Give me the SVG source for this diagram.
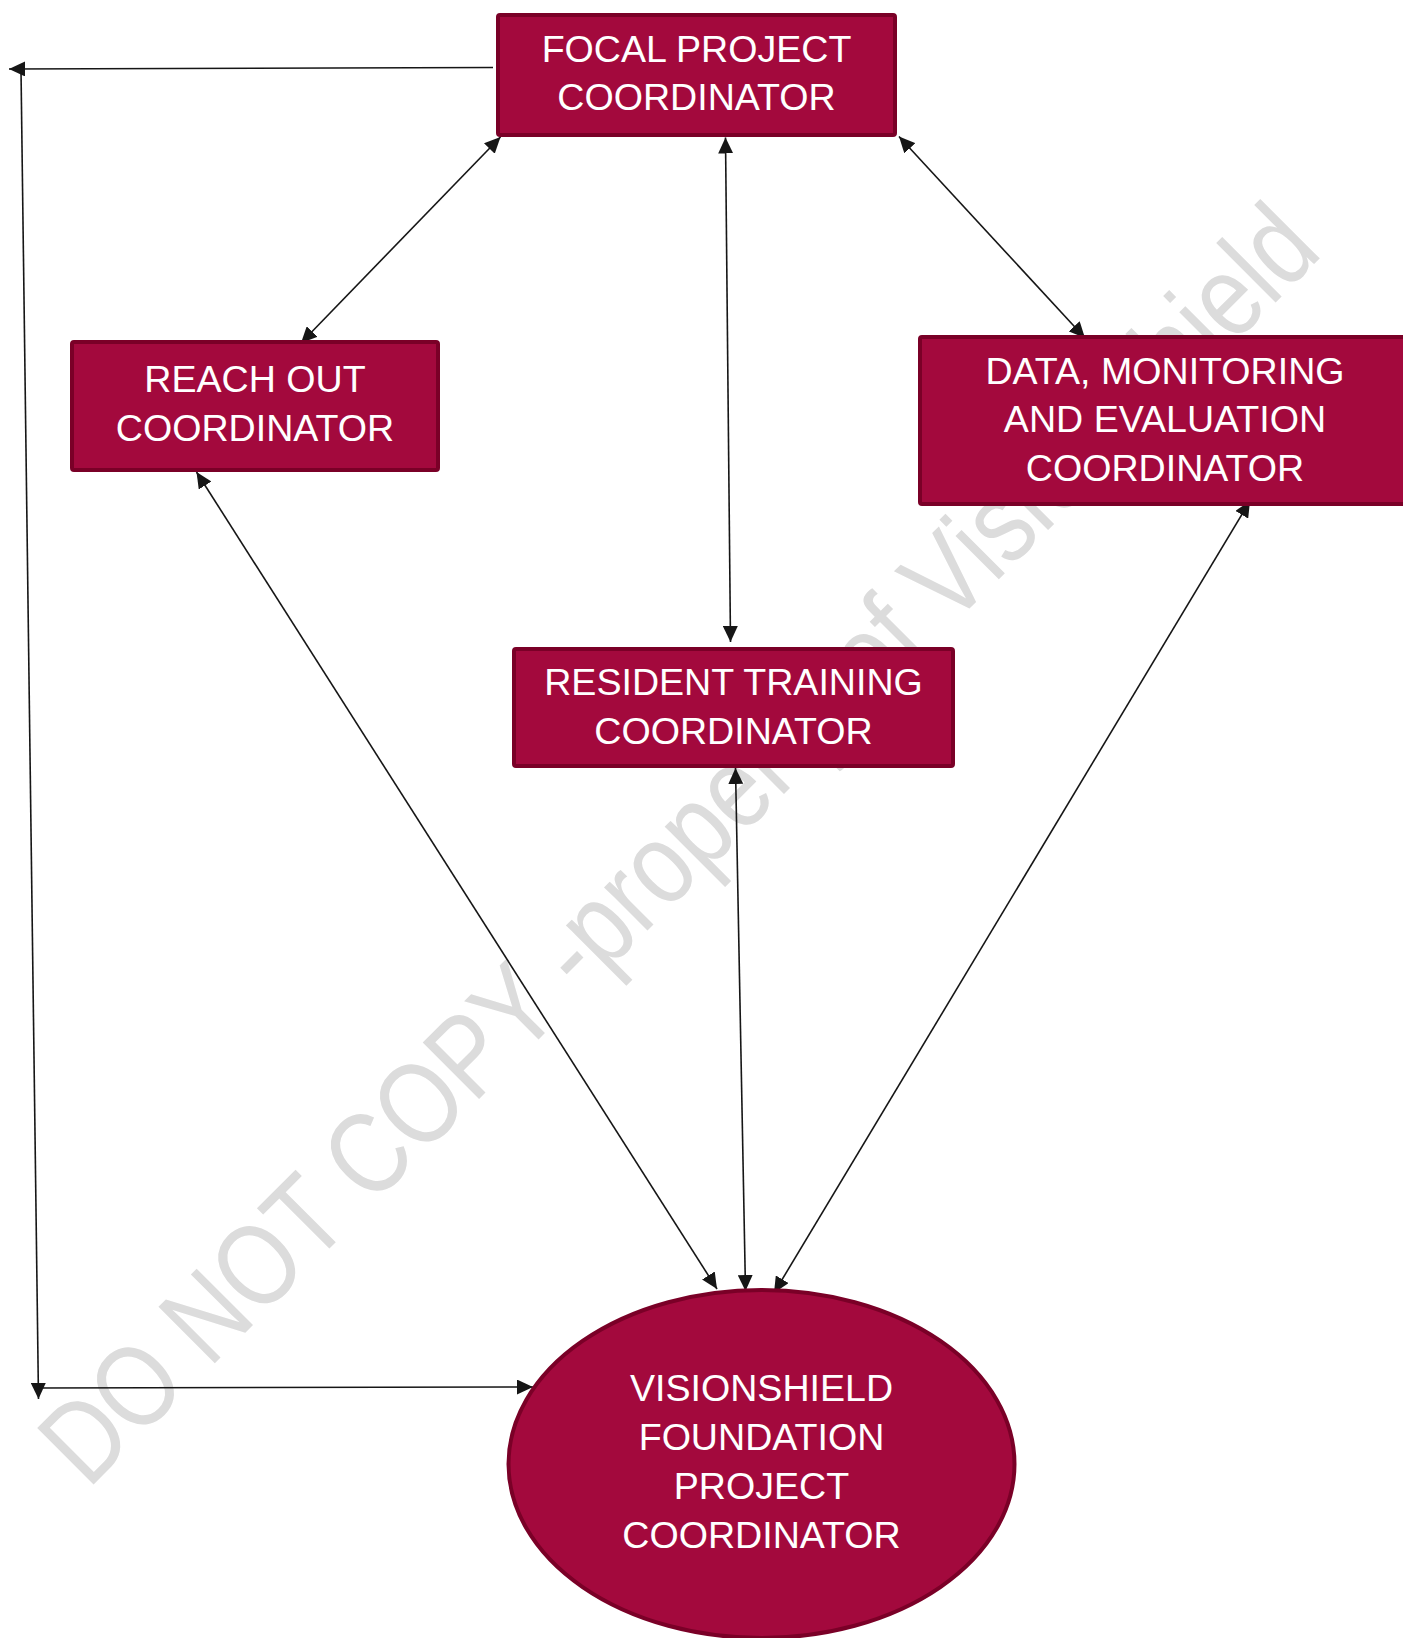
<svg xmlns="http://www.w3.org/2000/svg" width="1403" height="1638" viewBox="0 0 1403 1638">
<defs>
<style>
.node{fill:#a3093d;stroke:#7a0027;stroke-width:4}
.lbl{font-family:"Liberation Sans",Arial,sans-serif;font-size:37.6px;fill:#ffffff;text-anchor:middle}
.con{stroke:#161616;stroke-width:1.6;fill:none}
.wm{font-family:"Liberation Sans",Arial,sans-serif;font-size:96.5px;fill:#dcdcdc}
</style>
<marker id="ah" viewBox="0 0 16 15" markerUnits="userSpaceOnUse" markerWidth="16" markerHeight="15" refX="16" refY="7.5" orient="auto-start-reverse">
<path d="M0,0 L16,7.5 L0,15 z" fill="#161616"/>
</marker>
</defs>
<rect width="1403" height="1638" fill="#ffffff"/>
<g id="watermark">
<text class="wm" transform="translate(88,1490) rotate(-45) scale(1,1.2)" x="0" y="0">DO NOT COPY -property of VisionShield</text>
</g>
<g id="connectors">
<line class="con" x1="493" y1="67.5" x2="9" y2="69" marker-end="url(#ah)"/>
<line class="con" x1="21" y1="70" x2="38.5" y2="1399" marker-end="url(#ah)"/>
<line class="con" x1="38" y1="1388" x2="533" y2="1387" marker-end="url(#ah)"/>
<line class="con" x1="500.5" y1="137" x2="301" y2="343" marker-start="url(#ah)" marker-end="url(#ah)"/>
<line class="con" x1="725.5" y1="137.5" x2="730.5" y2="642" marker-start="url(#ah)" marker-end="url(#ah)"/>
<line class="con" x1="899" y1="136.5" x2="1085" y2="338" marker-start="url(#ah)" marker-end="url(#ah)"/>
<line class="con" x1="196.5" y1="472" x2="717" y2="1289" marker-start="url(#ah)" marker-end="url(#ah)"/>
<line class="con" x1="735.5" y1="768" x2="745.5" y2="1291" marker-start="url(#ah)" marker-end="url(#ah)"/>
<line class="con" x1="1250" y1="501" x2="774" y2="1293" marker-start="url(#ah)" marker-end="url(#ah)"/>
</g>
<g id="focal">
<rect class="node" x="498" y="15" width="397" height="120" rx="2"/>
<text class="lbl" x="696.5" y="62">FOCAL PROJECT</text>
<text class="lbl" x="696.5" y="110">COORDINATOR</text>
</g>
<g id="reach">
<rect class="node" x="72" y="342" width="366" height="128" rx="2"/>
<text class="lbl" x="255" y="392">REACH OUT</text>
<text class="lbl" x="255" y="440.5">COORDINATOR</text>
</g>
<g id="data">
<rect class="node" x="920" y="337" width="492" height="167" rx="2"/>
<text class="lbl" x="1165" y="383.5">DATA, MONITORING</text>
<text class="lbl" x="1165" y="432">AND EVALUATION</text>
<text class="lbl" x="1165" y="480.5">COORDINATOR</text>
</g>
<g id="resident">
<rect class="node" x="514" y="649" width="439" height="117" rx="2"/>
<text class="lbl" x="733.5" y="695">RESIDENT TRAINING</text>
<text class="lbl" x="733.5" y="744">COORDINATOR</text>
</g>
<g id="visionshield">
<ellipse class="node" cx="761.5" cy="1464" rx="253" ry="174"/>
<text class="lbl" x="761.5" y="1401">VISIONSHIELD</text>
<text class="lbl" x="761.5" y="1450">FOUNDATION</text>
<text class="lbl" x="761.5" y="1499">PROJECT</text>
<text class="lbl" x="761.5" y="1548">COORDINATOR</text>
</g>
</svg>
